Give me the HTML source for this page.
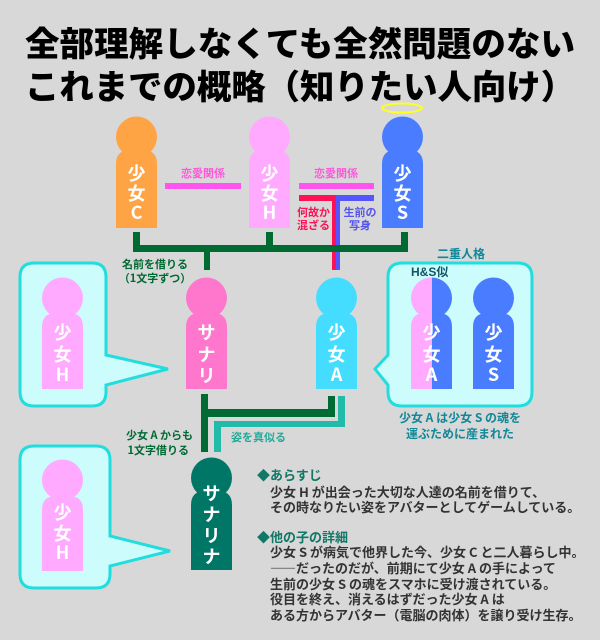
<!DOCTYPE html>
<html><head><meta charset="utf-8"><style>
html,body{margin:0;padding:0;background:#d8d8d8;}
svg{display:block;font-family:"Liberation Sans","Noto Sans CJK JP",sans-serif;font-weight:bold;}
</style></head><body>
<svg width="600" height="640" viewBox="0 0 600 640" xmlns="http://www.w3.org/2000/svg">
<rect width="600" height="640" fill="#d8d8d8"/>
<text x="300" y="56" font-size="34" text-anchor="middle" fill="#000" font-family="Noto Sans CJK JP, sans-serif" font-weight="900" textLength="550" lengthAdjust="spacingAndGlyphs">全部理解しなくても全然問題のない</text>
<text x="300" y="99" font-size="34" text-anchor="middle" fill="#000" font-family="Noto Sans CJK JP, sans-serif" font-weight="900" textLength="550" lengthAdjust="spacingAndGlyphs">これまでの概略（知りたい人向け）</text>

<ellipse cx="402" cy="108" rx="20" ry="4.5" fill="none" stroke="#ffff22" stroke-width="2"/>

<g fill="#ffa444"><circle cx="136.5" cy="137" r="20.5"/><path d="M116,228V164Q116,150 130,150H143Q157,150 157,164V228Z"/></g>
<g fill="#ffaaff"><circle cx="269.5" cy="137" r="20.5"/><path d="M249,228V164Q249,150 263,150H276Q290,150 290,164V228Z"/></g>
<g fill="#4a7cff"><circle cx="402.5" cy="137" r="20.5"/><path d="M382,228V164Q382,150 396,150H409Q423,150 423,164V228Z"/></g>
<g fill="#fff" font-size="18" text-anchor="middle" font-family="Noto Sans CJK JP, sans-serif">
<text x="136.5" y="180">少</text><text x="136.5" y="200">女</text><text x="136.5" y="219">C</text>
<text x="269.5" y="180">少</text><text x="269.5" y="200">女</text><text x="269.5" y="219">H</text>
<text x="402.5" y="180">少</text><text x="402.5" y="200">女</text><text x="402.5" y="219">S</text>
</g>

<rect x="165" y="183" width="76" height="6" fill="#ff55ee"/>
<rect x="299" y="183" width="75" height="6" fill="#ff55ee"/>
<g font-size="11" fill="#ff55dd" text-anchor="middle" font-family="Noto Sans CJK JP, sans-serif">
<text x="203" y="177">恋愛関係</text><text x="336" y="177">恋愛関係</text></g>
<rect x="299" y="195" width="37" height="6" fill="#ff1155"/>
<rect x="336" y="195" width="38" height="6" fill="#5555ff"/>
<rect x="332" y="195" width="4" height="75" fill="#ff1155"/>
<rect x="336" y="195" width="4" height="75" fill="#5555ff"/>
<g font-size="11" font-family="Noto Sans CJK JP, sans-serif">
<text x="330" y="216" text-anchor="end" fill="#ff1155">何故か</text>
<text x="330" y="229" text-anchor="end" fill="#ff1155">混ざる</text>
<text x="360" y="216" text-anchor="middle" fill="#5555ee">生前の</text>
<text x="360" y="229" text-anchor="middle" fill="#5555ee">写身</text></g>

<g fill="#006a33">
<rect x="133" y="232" width="7" height="20"/><rect x="266" y="232" width="7" height="20"/><rect x="401" y="232" width="7" height="20"/>
<rect x="133" y="245" width="275" height="7"/><rect x="204" y="245" width="6" height="25"/>
</g>
<g font-size="11" fill="#006a33" font-family="Noto Sans CJK JP, sans-serif" text-anchor="middle">
<text x="155" y="268">名前を借りる</text><text x="155" y="282">（1文字ずつ）</text></g>

<!-- left bubble -->
<path d="M34,263H92Q106,263 106,277V355L168,369L106,385V392Q106,406 92,406H34Q20,406 20,392V277Q20,263 34,263Z" fill="#ccfcfc" stroke="#22dddd" stroke-width="3"/>
<g fill="#ffaaff"><circle cx="62.5" cy="298" r="20.5"/><path d="M42,389V327Q42,313 56,313H69Q83,313 83,327V389Z"/></g>

<!-- right bubble -->
<path d="M402,263H518Q532,263 532,277V392Q532,406 518,406H402Q388,406 388,392V385L375,369L388,355V277Q388,263 402,263Z" fill="#ccfcfc" stroke="#22dddd" stroke-width="3"/>
<clipPath id="hl"><rect x="411" y="270" width="21" height="130"/></clipPath>
<clipPath id="hr"><rect x="432" y="270" width="21" height="130"/></clipPath>
<g fill="#ffaaff" clip-path="url(#hl)"><circle cx="431.5" cy="298" r="20.5"/><path d="M411,389V327Q411,313 425,313H438Q452,313 452,327V389Z"/></g>
<g fill="#4a7cff" clip-path="url(#hr)"><circle cx="431.5" cy="298" r="20.5"/><path d="M411,389V327Q411,313 425,313H438Q452,313 452,327V389Z"/></g>
<g fill="#4a7cff"><circle cx="493.5" cy="298" r="20.5"/><path d="M473,389V327Q473,313 487,313H500Q514,313 514,327V389Z"/></g>
<text x="411" y="276" font-size="12" fill="#115566">H&amp;S似</text>
<text x="461" y="258" font-size="12" fill="#118899" text-anchor="middle" font-family="Noto Sans CJK JP, sans-serif">二重人格</text>
<g font-size="12" fill="#118899" text-anchor="middle" font-family="Noto Sans CJK JP, sans-serif">
<text x="460" y="422">少女 A は少女 S の魂を</text><text x="460" y="438">運ぶために産まれた</text></g>

<!-- middle figures -->
<g fill="#ff77cc"><circle cx="206.5" cy="298" r="20.5"/><path d="M186,389V327Q186,313 200,313H213Q227,313 227,327V389Z"/></g>
<g fill="#44ddff"><circle cx="336.5" cy="298" r="20.5"/><path d="M316,389V327Q316,313 330,313H343Q357,313 357,327V389Z"/></g>
<g fill="#fff" font-size="18" text-anchor="middle" font-family="Noto Sans CJK JP, sans-serif">
<text x="62.5" y="339">少</text><text x="62.5" y="361">女</text><text x="62.5" y="381">H</text>
<text x="206.5" y="339">サ</text><text x="206.5" y="361">ナ</text><text x="206.5" y="382">リ</text>
<text x="336.5" y="339">少</text><text x="336.5" y="361">女</text><text x="336.5" y="381">A</text>
<text x="431.5" y="339">少</text><text x="431.5" y="361">女</text><text x="431.5" y="381">A</text>
<text x="493.5" y="339">少</text><text x="493.5" y="361">女</text><text x="493.5" y="381">S</text>
</g>

<!-- lower connectors -->
<g fill="#006a33"><rect x="201" y="394" width="7" height="58"/><rect x="201" y="409" width="134" height="8"/><rect x="328" y="396" width="7" height="21"/></g>
<g fill="#22bbaa"><rect x="338" y="396" width="7" height="31"/><rect x="214" y="421" width="131" height="6"/><rect x="214" y="421" width="7" height="31"/></g>
<g font-size="11" fill="#006a33" font-family="Noto Sans CJK JP, sans-serif" text-anchor="end">
<text x="193" y="439">少女 A からも</text><text x="189" y="454">1文字借りる</text></g>
<text x="231" y="441" font-size="11" fill="#22aa99" font-family="Noto Sans CJK JP, sans-serif">姿を真似る</text>

<!-- bottom bubble -->
<path d="M34,446H96Q110,446 110,460V536L170,551L110,566V574Q110,588 96,588H34Q20,588 20,574V460Q20,446 34,446Z" fill="#ccfcfc" stroke="#22dddd" stroke-width="3"/>
<g fill="#ffaaff"><circle cx="62.5" cy="480" r="20.5"/><path d="M42,571V510Q42,496 56,496H69Q83,496 83,510V571Z"/></g>
<g fill="#007766"><circle cx="211.5" cy="478" r="20.5"/><path d="M191,570V505Q191,491 205,491H218Q232,491 232,505V570Z"/></g>
<g fill="#fff" font-size="18" text-anchor="middle" font-family="Noto Sans CJK JP, sans-serif">
<text x="62.5" y="519">少</text><text x="62.5" y="540">女</text><text x="62.5" y="559">H</text>
<text x="211.5" y="500">サ</text><text x="211.5" y="521">ナ</text><text x="211.5" y="542">リ</text><text x="211.5" y="563">ナ</text>
</g>

<g font-size="13" font-family="Noto Sans CJK JP, sans-serif">
<text x="257" y="480" fill="#117766">◆あらすじ</text>
<text x="270" y="497" fill="#333">少女 H が出会った大切な人達の名前を借りて、</text>
<text x="270" y="512" fill="#333">その時なりたい姿をアバターとしてゲームしている。</text>
<text x="257" y="542" fill="#117766">◆他の子の詳細</text>
<text x="270" y="557" fill="#333">少女 S が病気で他界した今、少女 C と二人暮らし中。</text>
<text x="270" y="573" fill="#333">――だったのだが、前期にて少女 A の手によって</text>
<text x="270" y="589" fill="#333">生前の少女 S の魂をスマホに受け渡されている。</text>
<text x="270" y="604" fill="#333">役目を終え、消えるはずだった少女 A は</text>
<text x="270" y="620" fill="#333">ある方からアバター（電脳の肉体）を譲り受け生存。</text>
</g>
</svg>
</body></html>
